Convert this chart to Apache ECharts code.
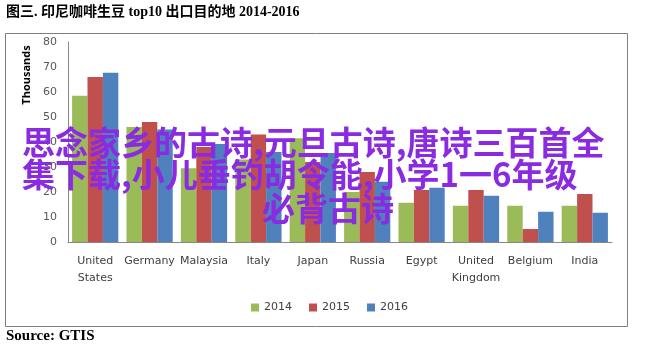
<!DOCTYPE html>
<html>
<head>
<meta charset="utf-8">
<script src="https://cdn.jsdelivr.net/npm/echarts@6/dist/echarts.min.js"></script>
<style>
  html, body { margin: 0; padding: 0; background: #fff; }
  #chart { width: 650px; height: 346px; }
</style>
</head>
<body>
<div id="chart"></div>
<script>
// Indonesian green coffee exports, top 10 destinations (thousand tonnes)
const categories = ['United\nStates', 'Germany', 'Malaysia', 'Italy', 'Japan', 'Russia', 'Egypt', 'United\nKingdom', 'Belgium', 'India'];
const years = ['2014', '2015', '2016'];
const v2014 = [58.5, 46, 29.5, 33, 41.5, 20, 15.7, 14.5, 14.5, 14.5];
const v2015 = [66, 48, 38, 43, 32, 28, 20.8, 20.8, 5.2, 19.2];
const v2016 = [67.7, 45, 39.2, 36, 35.6, 24.1, 21.7, 18.5, 12.1, 11.7];
const yTicks = { min: 0, max: 80, interval: 10 };

const titleText = '图三. 印尼咖啡生豆 top10 出口目的地 2014-2016';
const sourceText = 'Source: GTIS';
const overlayLines = ['思念家乡的古诗,元旦古诗,唐诗三百首全', '集下载,小儿垂钓胡令能,小学1一6年级', '必背古诗'];

const colors = ['#9bbb59', '#c0504d', '#4f81bd'];
const labelFont = '"DejaVu Sans", Verdana, sans-serif';
const serifFont = '"Liberation Serif", "Times New Roman", "Noto Sans CJK SC", serif';
const overlayFont = 'bold 33px "Noto Sans CJK SC", sans-serif';
const overlayColor = '#8a2be2';

const chart = echarts.init(document.getElementById('chart'), null, { renderer: 'canvas' });

const seriesData = [v2014, v2015, v2016];

chart.setOption({
  animation: false,
  color: colors,
  grid: { left: 68, right: 38, top: 42, bottom: 104 },
  legend: {
    data: years,
    top: 297,
    left: 246,
    icon: 'rect',
    itemWidth: 8,
    itemHeight: 8,
    itemGap: 17,
    textStyle: { fontFamily: labelFont, fontSize: 11, color: '#404040' }
  },
  xAxis: {
    type: 'category',
    data: categories,
    axisLine: { lineStyle: { color: '#868686', width: 1 } },
    axisTick: { show: false },
    axisLabel: {
      interval: 0,
      margin: 11,
      fontFamily: labelFont,
      fontSize: 11,
      lineHeight: 17,
      color: '#404040'
    },
    splitLine: { show: false }
  },
  yAxis: {
    type: 'value',
    min: yTicks.min,
    max: yTicks.max,
    interval: yTicks.interval,
    axisLine: { show: true, lineStyle: { color: '#868686', width: 1 } },
    axisTick: { show: false },
    axisLabel: { margin: 11, fontFamily: labelFont, fontSize: 11, color: '#595959' },
    splitLine: { show: false }
  },
  series: years.map((y, i) => ({
    name: y,
    type: 'bar',
    data: seriesData[i],
    barGap: '0%',
    barCategoryGap: '15%',
    itemStyle: { color: colors[i] }
  })),
  graphic: [
    {
      type: 'rect',
      shape: { x: 5.5, y: 33.5, width: 622, height: 293 },
      style: { fill: 'none', stroke: '#7f7f7f', lineWidth: 1 },
      z: 0
    },
    {
      type: 'text',
      left: 6, top: 5,
      style: { text: titleText, font: 'bold 14px ' + serifFont, fill: '#000' }
    },
    {
      type: 'text',
      left: 6, top: 329,
      style: { text: sourceText, font: 'bold 15px ' + serifFont, fill: '#000' }
    },
    {
      type: 'text',
      x: 27, y: 75,
      rotation: Math.PI / 2,
      style: {
        text: 'Thousands',
        font: 'bold 11px "Open Sans", Calibri, sans-serif',
        fill: '#000',
        align: 'center',
        verticalAlign: 'middle'
      }
    },
    { type: 'text', x: 22, y: 126, z: 100, zlevel: 1, style: { text: overlayLines[0], font: overlayFont, fill: overlayColor } },
    { type: 'text', x: 22, y: 158, z: 100, zlevel: 1, style: { text: overlayLines[1], font: overlayFont, fill: overlayColor } },
    { type: 'text', x: 262, y: 192, z: 100, zlevel: 1, style: { text: overlayLines[2], font: overlayFont, fill: overlayColor } }
  ]
});
</script>
</body>
</html>
